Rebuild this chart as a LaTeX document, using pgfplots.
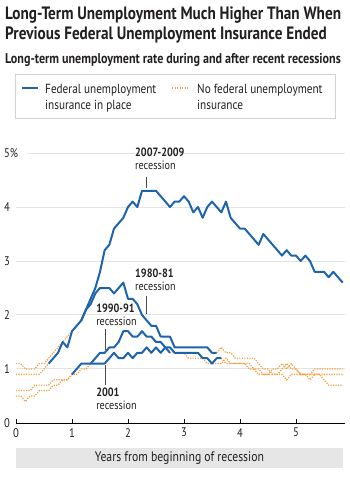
\documentclass[border=0pt]{standalone}
\usepackage{fontspec}
\setmainfont{PT Sans}[FakeStretch=0.85]
\usepackage{pgfplots}
\pgfplotsset{compat=1.18}
\usepackage{pgfplotstable}
\usetikzlibrary{shadows}
\definecolor{fedblue}{HTML}{1E64AA}
\definecolor{noorange}{HTML}{F4A043}
\definecolor{gridgray}{HTML}{E3E3E3}
\definecolor{boxgray}{HTML}{E6E6E6}
\definecolor{txt}{HTML}{231F20}
\newcommand{\annfont}{\fontsize{12}{14}\selectfont}
\newcommand{\legfont}{\fontsize{13.2}{15}\selectfont}

% 2007-2009 recession
\pgfplotstableread{
m v
0 0.9
1 0.9
2 0.9
3 0.9
4 0.9
5 0.9
6 1.0
7 1.1
}\sevpre
\pgfplotstableread{
m v
7 1.1
8 1.2
9 1.3
10 1.5
11 1.4
12 1.7
13 1.8
14 1.9
15 2.1
16 2.3
17 2.5
18 2.8
19 3.2
20 3.3
21 3.6
22 3.7
23 3.8
24 4.0
25 4.1
26 4.0
27 4.3
28 4.3
29 4.3
30 4.3
31 4.2
32 4.1
33 4.0
34 4.1
35 4.1
36 4.2
37 4.1
38 3.9
39 4.0
40 3.8
41 4.0
42 4.1
43 4.0
44 3.9
45 4.1
46 3.8
47 3.7
48 3.6
49 3.6
50 3.5
51 3.4
52 3.3
53 3.5
54 3.4
55 3.3
56 3.2
57 3.1
58 3.2
59 3.1
60 3.1
61 3.0
62 3.1
63 3.0
64 2.8
65 2.8
66 2.8
67 2.7
68 2.8
69 2.7
70 2.6
}\sevfed

% 1980-81 recession
\pgfplotstableread{
m v
0 1.1
1 1.1
2 1.0
3 1.0
4 1.0
5 1.1
6 1.1
7 1.2
8 1.3
9 1.4
10 1.5
11 1.6
12 1.7
13 1.8
14 1.9
}\eightypre
\pgfplotstableread{
m v
14 1.9
15 2.1
16 2.2
17 2.4
18 2.5
19 2.5
20 2.5
21 2.4
22 2.5
23 2.6
24 2.3
25 2.3
26 2.2
27 2.0
28 1.9
29 1.8
30 1.8
31 1.6
32 1.6
33 1.6
34 1.4
35 1.4
36 1.4
37 1.4
38 1.4
39 1.4
40 1.4
41 1.4
42 1.3
43 1.3
}\eightyfed
\pgfplotstableread{
m v
43 1.3
44 1.4
45 1.3
46 1.3
47 1.2
48 1.2
49 1.2
50 1.2
51 1.2
52 1.1
53 1.0
54 1.0
55 0.9
56 0.9
57 1.0
58 1.1
59 1.0
60 1.0
61 0.9
62 0.9
63 0.9
64 1.0
65 1.0
66 1.0
67 1.0
68 1.0
69 1.0
70 1.0
}\eightypost

% 1990-91 recession
\pgfplotstableread{
m v
0 0.6
1 0.6
2 0.6
3 0.6
4 0.7
5 0.7
6 0.7
7 0.7
8 0.8
9 0.8
10 0.8
11 0.8
12 0.9
13 0.9
14 1.0
15 1.0
16 1.1
}\ninetypre
\pgfplotstableread{
m v
16 1.1
17 1.2
18 1.3
19 1.3
20 1.4
21 1.4
22 1.5
23 1.7
24 1.7
25 1.6
26 1.6
27 1.7
28 1.6
29 1.6
30 1.5
31 1.5
32 1.4
33 1.4
34 1.3
35 1.3
36 1.3
37 1.3
38 1.3
39 1.3
40 1.2
41 1.2
42 1.1
43 1.2
44 1.2
}\ninetyfed
\pgfplotstableread{
m v
44 1.2
45 1.1
46 1.1
47 1.1
48 1.1
49 1.1
50 1.1
51 1.0
52 0.9
53 0.9
54 0.9
55 0.9
56 0.9
57 0.9
58 0.8
59 0.9
60 0.9
61 0.9
62 0.9
63 0.9
64 0.9
65 0.9
66 0.9
67 0.9
68 0.9
69 0.9
70 0.9
}\ninetypost

% 2001 recession
\pgfplotstableread{
m v
0 0.5
1 0.5
2 0.4
3 0.5
4 0.5
5 0.6
6 0.6
7 0.6
8 0.7
9 0.7
10 0.8
11 0.8
12 0.9
}\onepre
\pgfplotstableread{
m v
12 0.9
13 1.0
14 1.1
15 1.1
16 1.1
17 1.1
18 1.1
19 1.1
20 1.2
21 1.3
22 1.2
23 1.2
24 1.3
25 1.2
26 1.3
27 1.3
28 1.4
29 1.3
30 1.4
31 1.3
32 1.4
33 1.3
}\onefed
\pgfplotstableread{
m v
33 1.3
34 1.3
35 1.3
36 1.3
37 1.2
38 1.2
39 1.2
40 1.2
41 1.1
42 1.1
43 1.1
44 1.1
45 1.2
46 1.1
47 1.1
48 1.1
49 1.1
50 1.0
51 1.0
52 1.0
53 0.9
54 0.9
55 1.0
56 1.0
57 1.1
58 1.0
59 1.1
60 1.0
61 0.9
62 0.9
63 0.8
64 0.9
65 0.9
66 0.8
67 0.7
68 0.7
69 0.7
70 0.7
}\onepost

\begin{document}
\begin{tikzpicture}[x=1pt,y=1pt]
\path[use as bounding box] (0,0) rectangle (350,477);
% titles
\node[anchor=base west, inner sep=0, text=txt, font=\bfseries\fontsize{17.9}{20}\selectfont] at (5,457) {Long-Term Unemployment Much Higher Than When};
\node[anchor=base west, inner sep=0, text=txt, font=\bfseries\fontsize{17.9}{20}\selectfont] at (5,437) {Previous Federal Unemployment Insurance Ended};
\node[anchor=base west, inner sep=0, text=txt, font=\bfseries\fontsize{14.2}{16}\selectfont] at (5,413) {Long-term unemployment rate during and after recent recessions};
% legend
\draw[draw=gray!35, fill=white, drop shadow={shadow xshift=1.2pt, shadow yshift=-1.2pt, opacity=0.3}] (15,359) rectangle (335,403);
\draw[fedblue, line width=2pt] (22,389) -- (38,389);
\draw[noorange, line width=1.3pt, dash pattern=on 1.2pt off 1.3pt] (172,389) -- (188,389);
\node[anchor=base west, inner sep=0, text=txt, font=\legfont] at (45,383) {Federal unemployment};
\node[anchor=base west, inner sep=0, text=txt, font=\legfont] at (45,367) {insurance in place};
\node[anchor=base west, inner sep=0, text=txt, font=\legfont] at (197,383) {No federal unemployment};
\node[anchor=base west, inner sep=0, text=txt, font=\legfont] at (197,367) {insurance};
% x label box
\fill[boxgray] (16,9) rectangle (343,29);
\node[text=txt, font=\fontsize{13.8}{15}\selectfont, inner sep=0] at (179.5,19) {Years from beginning of recession};
\begin{axis}[
  at={(16pt,54pt)}, anchor=origin, scale only axis,
  width=329pt, height=270pt,
  xmin=0, xmax=5.875, ymin=0, ymax=5,
  clip=false,
  axis line style={draw=none},
  xtick={0,1,2,3,4,5},
  ytick={0,1,2,3,4,5},
  yticklabels={0,1,2,3,4,5\%},
  xtick pos=bottom,
  tick align=inside,
  major tick length=4pt,
  xtick style={black, line width=0.6pt},
  ytick style={draw=none},
  ticklabel style={font=\fontsize{12.5}{14}\selectfont, text=txt},
  yticklabel style={anchor=west, inner sep=0pt, xshift=-12pt},
  xticklabel style={anchor=north, inner sep=0pt, yshift=-5pt},
  /pgf/number format/assume math mode=true,
  orangeline/.style={noorange, line width=1.3pt, dash pattern=on 1.2pt off 1.3pt, no markers},
  blueline/.style={fedblue, line width=2pt, no markers, line join=round},
]
\draw[gridgray, line width=1pt] (axis cs:0,1) -- (axis cs:5.875,1);
\draw[gridgray, line width=1pt] (axis cs:0,2) -- (axis cs:5.875,2);
\draw[gridgray, line width=1pt] (axis cs:0,3) -- (axis cs:5.875,3);
\draw[gridgray, line width=1pt] (axis cs:0,4) -- (axis cs:5.875,4);
\draw[gridgray, line width=1pt] (axis cs:0.2,5) -- (axis cs:5.875,5);
\draw[black, line width=0.8pt] (axis cs:0,0) -- (axis cs:5.875,0);

\addplot[orangeline] table[x expr=\thisrow{m}/12, y=v] {\sevpre};
\addplot[orangeline] table[x expr=\thisrow{m}/12, y=v] {\eightypre};
\addplot[orangeline] table[x expr=\thisrow{m}/12, y=v] {\eightypost};
\addplot[orangeline] table[x expr=\thisrow{m}/12, y=v] {\ninetypre};
\addplot[orangeline] table[x expr=\thisrow{m}/12, y=v] {\ninetypost};
\addplot[orangeline] table[x expr=\thisrow{m}/12, y=v] {\onepre};
\addplot[orangeline] table[x expr=\thisrow{m}/12, y=v] {\onepost};

\addplot[blueline] table[x expr=\thisrow{m}/12, y=v] {\onefed};
\addplot[blueline] table[x expr=\thisrow{m}/12, y=v] {\ninetyfed};
\addplot[blueline] table[x expr=\thisrow{m}/12, y=v] {\eightyfed};
\addplot[blueline] table[x expr=\thisrow{m}/12, y=v] {\sevfed};

% annotations
\node[anchor=base west, inner sep=0, text=txt, font=\bfseries\annfont] at (axis cs:2.125,4.93) {2007-2009};
\node[anchor=base west, inner sep=0, text=txt, font=\annfont] at (axis cs:2.125,4.69) {recession};
\draw[gray!60!black, line width=0.5pt] (axis cs:2.33,4.56) -- (axis cs:2.33,4.36);
\node[anchor=base west, inner sep=0, text=txt, font=\bfseries\annfont] at (axis cs:2.125,2.69) {1980-81};
\node[anchor=base west, inner sep=0, text=txt, font=\annfont] at (axis cs:2.125,2.46) {recession};
\draw[gray!60!black, line width=0.5pt] (axis cs:2.33,2.36) -- (axis cs:2.33,2.02);
\node[anchor=base west, inner sep=0, text=txt, font=\bfseries\annfont] at (axis cs:1.43,2.04) {1990-91};
\node[anchor=base west, inner sep=0, text=txt, font=\annfont] at (axis cs:1.43,1.80) {recession};
\draw[gray!60!black, line width=0.5pt] (axis cs:1.59,1.74) -- (axis cs:1.59,1.35);
\node[anchor=base west, inner sep=0, text=txt, font=\bfseries\annfont] at (axis cs:1.43,0.49) {2001};
\node[anchor=base west, inner sep=0, text=txt, font=\annfont] at (axis cs:1.43,0.25) {recession};
\draw[gray!60!black, line width=0.5pt] (axis cs:1.59,1.07) -- (axis cs:1.59,0.70);
\end{axis}
\end{tikzpicture}
\end{document}
